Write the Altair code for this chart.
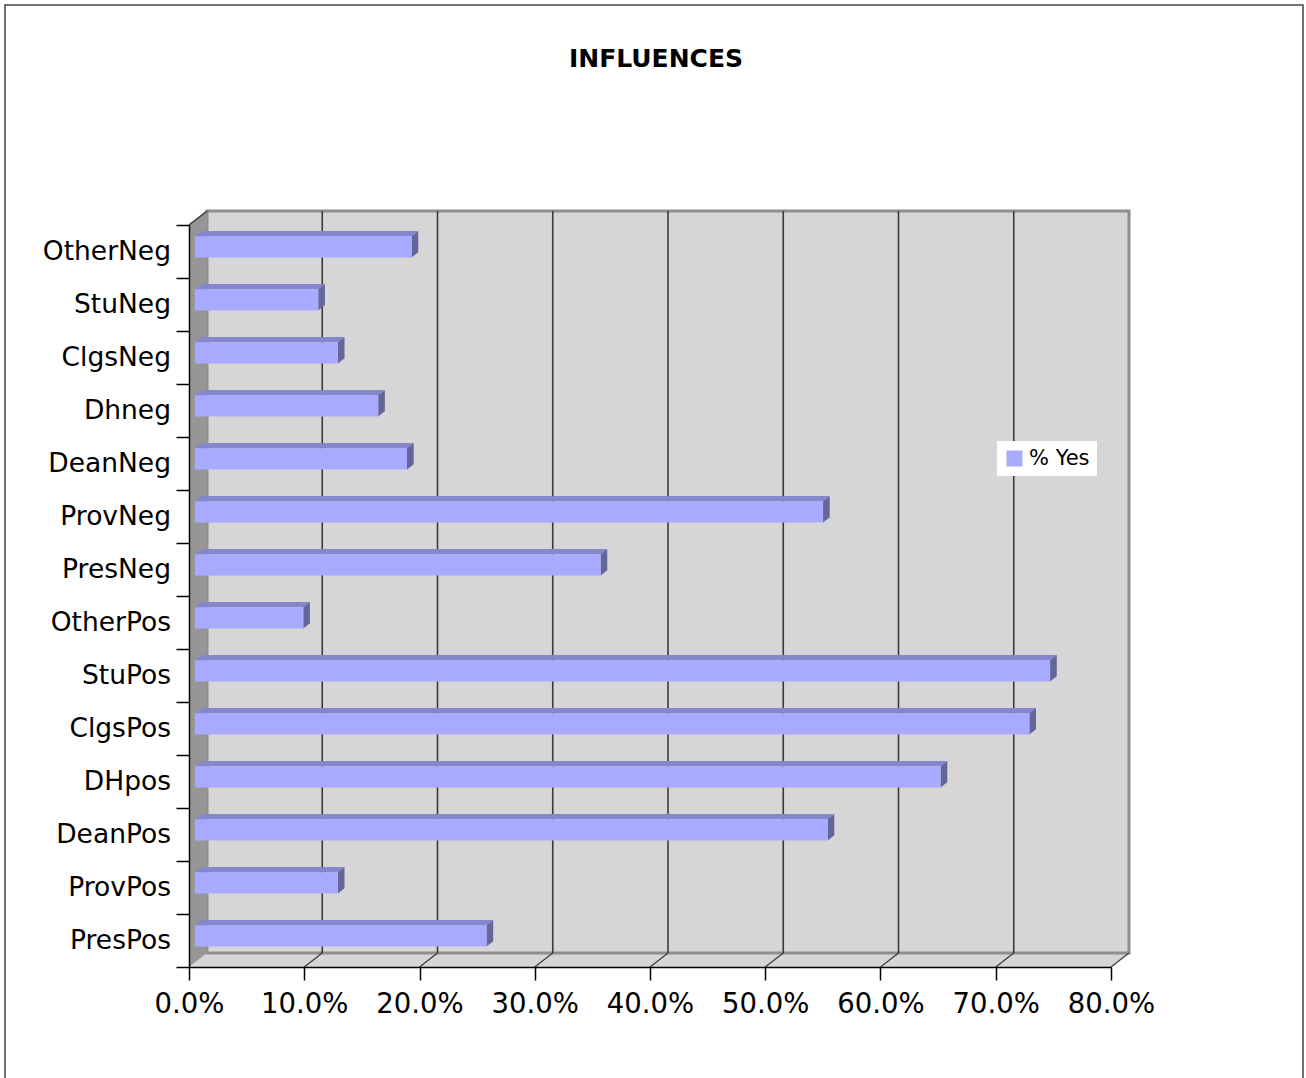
import altair as alt
import pandas as pd

# Survey results: share answering "yes" for each influence, listed top to bottom
CATEGORIES = [
    "OtherNeg", "StuNeg", "ClgsNeg", "Dhneg", "DeanNeg", "ProvNeg", "PresNeg",
    "OtherPos", "StuPos", "ClgsPos", "DHpos", "DeanPos", "ProvPos", "PresPos",
]
YES_SHARE = [
    0.188, 0.107, 0.124, 0.159, 0.184, 0.545, 0.352,
    0.094, 0.742, 0.724, 0.647, 0.549, 0.124, 0.253,
]
SERIES = "% Yes"
X_TICKS = [0.0, 0.1, 0.2, 0.3, 0.4, 0.5, 0.6, 0.7, 0.8]
GRID_TICKS = [0.1, 0.2, 0.3, 0.4, 0.5, 0.6, 0.7]
TITLE = "INFLUENCES"

# ---- layout / style ----
W, H = 922, 742
X_MAX = 0.8
N = len(CATEGORIES)
FONT = "DejaVu Sans"

# depth of the 3D box, expressed in data units of each axis
DEPTH_X = 18 / W * X_MAX
DEPTH_Y = 14 / H * N
BAR_Z0, BAR_Z1 = 0.33, 0.70   # slice of the depth occupied by the bars
BAR_HALF = 0.2                # half bar thickness, in category rows

FRONT = "#A8AAFF"
TOP = "#8587CC"
SIDE = "#64669A"
WALL = "#D6D6D6"
SIDE_WALL = "#969696"
EDGE = "#8E8E8E"
GRID = "#3A3A3A"

xs = alt.Scale(domain=[0, X_MAX], nice=False, zero=False)
ys = alt.Scale(domain=[0, N], nice=False, zero=False)

X_AXIS = alt.Axis(
    values=X_TICKS, format=".1%", title=None, grid=False,
    domainColor="black", domainWidth=1.5, tickColor="black", tickWidth=1.5,
    tickSize=13, labelFontSize=27.5, labelFont=FONT, labelColor="black",
    labelPadding=10, labelFlush=False, labelOverlap=False, zindex=2,
)
Y_AXIS = alt.Axis(
    values=list(range(N + 1)), labels=False, title=None, grid=False,
    domainColor="black", domainWidth=1.5, tickColor="black", tickWidth=1.5,
    tickSize=13, zindex=2,
)


def X(field):
    return alt.X(field, type="quantitative", scale=xs, axis=X_AXIS)


def Y(field):
    return alt.Y(field, type="quantitative", scale=ys, axis=Y_AXIS)


# ---- tables built from the arrays above ----
front_rows, top_rows, side_rows, label_rows = [], [], [], []
for pos, (cat, v) in enumerate(zip(CATEGORIES, YES_SHARE)):
    c = N - 1 - pos + 0.5
    label_rows.append({"category": cat, "row": c, "x": 0.0})
    front_rows.append({
        "category": cat, "value": v, "series": SERIES,
        "x0": BAR_Z0 * DEPTH_X, "x1": v + BAR_Z0 * DEPTH_X,
        "y0": c - BAR_HALF + BAR_Z0 * DEPTH_Y, "y1": c + BAR_HALF + BAR_Z0 * DEPTH_Y,
    })
    for z in (BAR_Z0, BAR_Z1):
        top_rows.append({
            "category": cat, "y": c + BAR_HALF + z * DEPTH_Y,
            "x": z * DEPTH_X, "x2": v + z * DEPTH_X,
        })
        side_rows.append({
            "category": cat, "x": v + z * DEPTH_X,
            "y": c - BAR_HALF + z * DEPTH_Y, "y2": c + BAR_HALF + z * DEPTH_Y,
        })

front_df = pd.DataFrame(front_rows)
top_df = pd.DataFrame(top_rows)
side_df = pd.DataFrame(side_rows)
label_df = pd.DataFrame(label_rows)

grid_df = pd.DataFrame({
    "x": [t + DEPTH_X for t in GRID_TICKS],
    "y": [DEPTH_Y] * len(GRID_TICKS),
    "y2": [N + DEPTH_Y] * len(GRID_TICKS),
})
floor_grid_df = pd.DataFrame({
    "x": X_TICKS[1:],
    "x2": [t + DEPTH_X for t in X_TICKS[1:]],
    "y": [0.0] * (len(X_TICKS) - 1),
    "y2": [DEPTH_Y] * (len(X_TICKS) - 1),
})

# ---- the 3D box: floor, back wall, side wall ----
floor = alt.Chart(pd.DataFrame({
    "y": [0, DEPTH_Y], "x": [0, DEPTH_X], "x2": [X_MAX, X_MAX + DEPTH_X],
})).mark_area(orient="horizontal", color=WALL).encode(
    y=Y("y"), x=X("x"), x2="x2"
)

back_wall = alt.Chart(pd.DataFrame({
    "x": [DEPTH_X], "x2": [X_MAX + DEPTH_X], "y": [DEPTH_Y], "y2": [N + DEPTH_Y],
})).mark_rect(fill=WALL, stroke=EDGE, strokeWidth=3).encode(
    x=X("x"), x2="x2", y=Y("y"), y2="y2"
)

side_wall = alt.Chart(pd.DataFrame({
    "x": [0, DEPTH_X], "y": [0, DEPTH_Y], "y2": [N, N + DEPTH_Y],
})).mark_area(orient="vertical", color=SIDE_WALL).encode(
    x=X("x"), y=Y("y"), y2="y2"
)

side_wall_top = alt.Chart(pd.DataFrame({
    "x": [0], "x2": [DEPTH_X], "y": [N], "y2": [N + DEPTH_Y],
})).mark_rule(color="#333333", strokeWidth=1.5).encode(
    x=X("x"), x2="x2", y=Y("y"), y2="y2"
)

grid = alt.Chart(grid_df).mark_rule(color=GRID, strokeWidth=1.6).encode(
    x=X("x"), y=Y("y"), y2="y2"
)

floor_grid = alt.Chart(floor_grid_df).mark_rule(color=GRID, strokeWidth=1.2).encode(
    x=X("x"), x2="x2", y=Y("y"), y2="y2"
)

# ---- bars: top face, end face, front face ----
bar_top = alt.Chart(top_df).mark_area(orient="horizontal", color=TOP).encode(
    y=Y("y"), x=X("x"), x2="x2", detail="category:N"
)

bar_side = alt.Chart(side_df).mark_area(orient="vertical", color=SIDE).encode(
    x=X("x"), y=Y("y"), y2="y2", detail="category:N"
)

bar_front = alt.Chart(front_df).mark_rect().encode(
    x=X("x0"), x2="x1", y=Y("y0"), y2="y1",
    color=alt.Color(
        "series:N",
        scale=alt.Scale(domain=[SERIES], range=[FRONT]),
        legend=alt.Legend(
            title=None, orient="none", legendX=808, legendY=216,
            fillColor="white", padding=7, symbolType="square", symbolSize=256,
            symbolStrokeWidth=0, labelFontSize=21, labelFont=FONT,
            labelColor="black", labelOffset=4,
        ),
    ),
    tooltip=["category", alt.Tooltip("value", format=".1%")],
)

# category names beside the value axis
labels = alt.Chart(label_df).mark_text(
    align="right", baseline="middle", dx=-18, fontSize=26.5, font=FONT, color="black"
).encode(
    x=X("x"), y=Y("row"), text="category:N"
)

# chart heading, centred above the plot
heading = alt.Chart(pd.DataFrame({"t": [TITLE]})).mark_text(
    align="center", baseline="alphabetic", fontSize=25, fontWeight="bold",
    font=FONT, color="black"
).encode(
    x=alt.value(W / 2 + 6), y=alt.value(-158), text="t:N"
)

# outer border of the chart
frame = alt.Chart(pd.DataFrame({"k": [0]})).mark_rect(
    fill="white", fillOpacity=0, stroke="#444444", strokeWidth=1.5
).encode(
    x=alt.value(-184), x2=alt.value(1114), y=alt.value(-220), y2=alt.value(880)
)

chart = alt.layer(
    frame, floor, back_wall, side_wall, grid, floor_grid, side_wall_top,
    bar_top, bar_side, bar_front, labels, heading,
).properties(
    width=W,
    height=H,
    autosize=alt.AutoSizeParams(type="none"),
    padding={"left": 189, "top": 225, "right": 195, "bottom": 111},
    background="white",
).configure_view(stroke=None)

chart.save("out.html", embed_options={"renderer": "svg", "actions": False})
